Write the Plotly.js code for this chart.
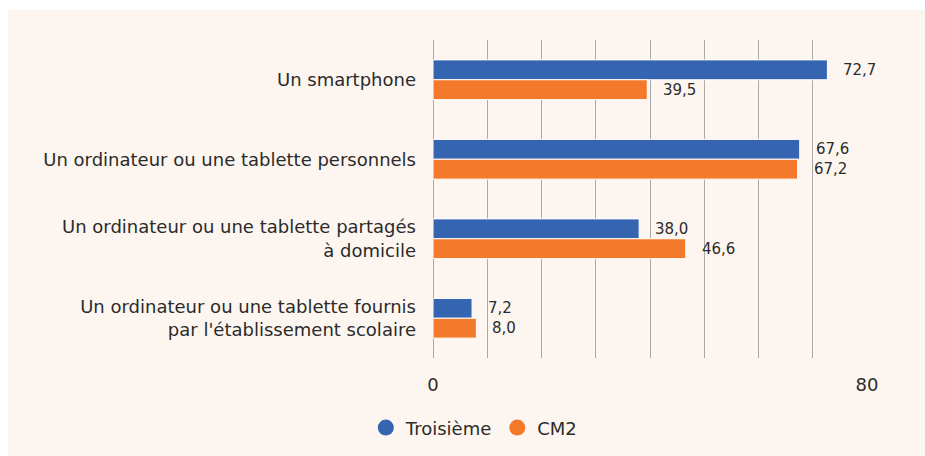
<!DOCTYPE html>
<html><head><meta charset="utf-8">
<script src="https://cdn.plot.ly/plotly-3.0.1.min.js"></script>
<style>html,body{margin:0;padding:0;background:#fff;}#c{position:absolute;left:8px;top:10px;width:917px;height:446px;}</style>
</head><body><div id="c"></div>
<script>
const categories = [
  "Un smartphone",
  "Un ordinateur ou une tablette personnels",
  "Un ordinateur ou une tablette partagés<br>à domicile",
  "Un ordinateur ou une tablette fournis<br>par l'établissement scolaire"
];
const seriesNames = ["Troisième", "CM2"];
const troisieme = [72.7, 67.6, 38.0, 7.2];
const cm2 = [39.5, 67.2, 46.6, 8.0];
const xTickVals = [0, 10, 20, 30, 40, 50, 60, 70, 80];
const xTickText = ["0", "", "", "", "", "", "", "", "80"];

const colors = ["#3565b1", "#f47a2b"];
const fmt = v => v.toFixed(1).replace(".", ",");
const font = "DejaVu Sans, sans-serif";
const seriesVals = [troisieme, cm2];

const traces = seriesVals.map((vals, i) => ({
  type: "bar", orientation: "h", name: seriesNames[i],
  x: vals, y: categories, showlegend: false,
  marker: {color: colors[i], line: {color: "#ffffff", width: 1}},
  hoverinfo: "skip"
}));
seriesNames.forEach((n, i) => traces.push({
  type: "scatter", mode: "markers", name: n, x: [null], y: [null],
  marker: {color: colors[i], size: 17, symbol: "circle"}, showlegend: true
}));

const annotations = [];
seriesVals.forEach((vals, i) => vals.forEach((v, j) => annotations.push({
  x: v, y: categories[j], xref: "x", yref: "y", text: fmt(v),
  showarrow: false, xanchor: "left", xshift: 14, yshift: i === 0 ? 10 : -10,
  font: {family: font, size: 15, color: "#2b2b2b"}
})));

const layout = {
  width: 917, height: 446,
  paper_bgcolor: "#fdf6f0", plot_bgcolor: "#fdf6f0",
  margin: {l: 425, r: 58, t: 30, b: 98, autoexpand: false},
  barmode: "group", bargap: 0.5, bargroupgap: 0,
  font: {family: font, size: 18, color: "#2b2b2b"},
  xaxis: {range: [0, 80], tickvals: xTickVals, ticktext: xTickText,
    showgrid: true, gridcolor: "#a9a9a9", gridwidth: 1,
    zeroline: true, zerolinecolor: "#a9a9a9", showline: false, ticks: "",
    ticklabelstandoff: 14, automargin: false,
    tickfont: {size: 18, color: "#2b2b2b"}, fixedrange: true},
  yaxis: {type: "category", autorange: "reversed", showgrid: false, zeroline: false,
    ticks: "", ticklabelstandoff: 16, automargin: false, tickfont: {size: 18, color: "#2b2b2b"}},
  legend: {orientation: "h", xref: "container", yref: "container",
    x: 0.508, xanchor: "center", y: 0.063, yanchor: "middle",
    font: {size: 18, color: "#2b2b2b"}, itemwidth: 20, bgcolor: "rgba(0,0,0,0)"},
  annotations: annotations
};
Plotly.newPlot("c", traces, layout, {displayModeBar: false, staticPlot: true});
</script></body></html>
